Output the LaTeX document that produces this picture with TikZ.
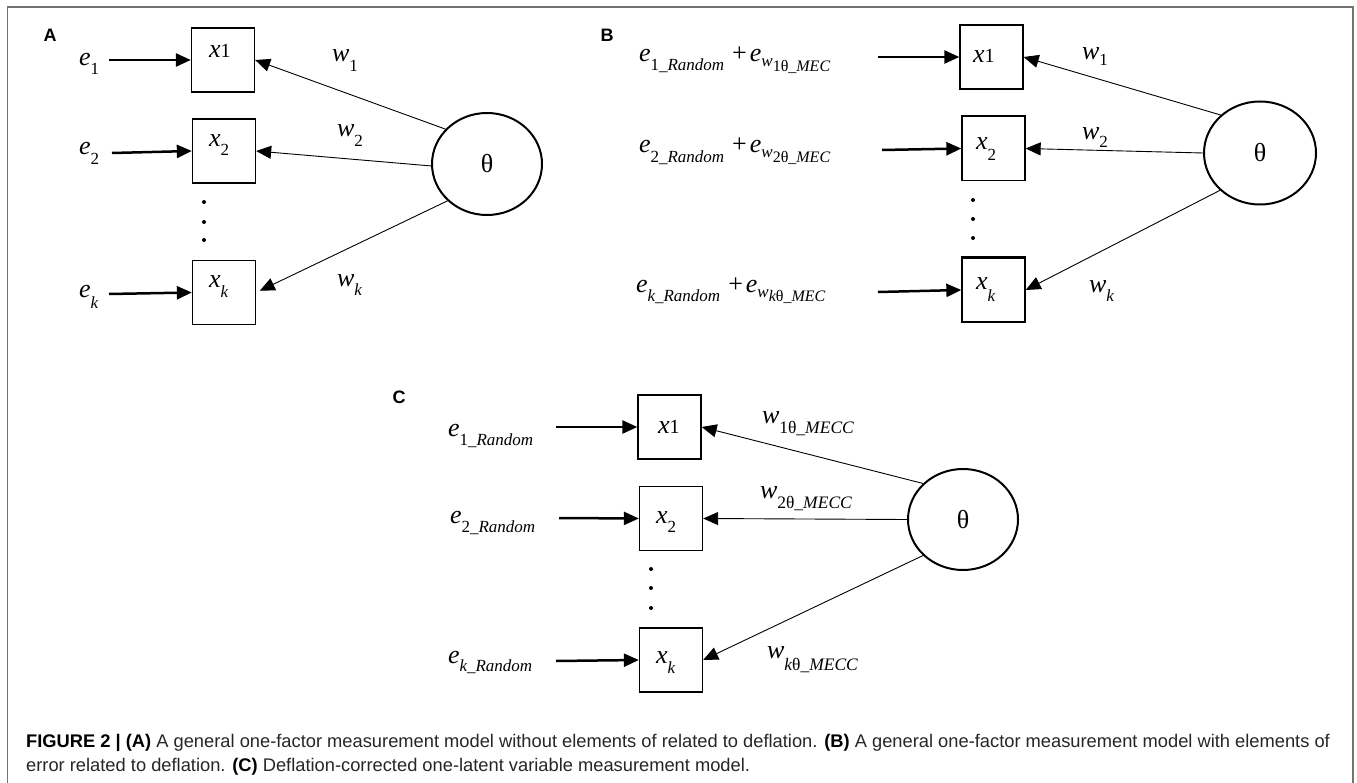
\documentclass[tikz,border=0pt]{standalone}
\usepackage{fontspec}
\setmainfont{Liberation Serif}
\newfontfamily\capfont{Liberation Sans}
\usetikzlibrary{arrows.meta,shapes.geometric}
\newcommand\bigf{\fontsize{26}{30}\selectfont\itshape}
\newcommand\subf{\fontsize{17}{20}\selectfont\itshape}
\newcommand\ssubf{\fontsize{16}{19}\selectfont\itshape}
\newcommand\csubf{\fontsize{17.5}{20}\selectfont\itshape}
\newcommand\upth{{\upshape θ}}
\newcommand\dg[1]{{\upshape #1}}
\begin{document}
\begin{tikzpicture}[x=1pt,y=-1pt,
  obs/.style={draw, line width=1.3pt, minimum width=63pt, minimum height=64pt, inner sep=0pt},
  lat/.style={draw, ellipse, line width=2pt, minimum width=110pt, minimum height=102pt, inner sep=0pt, font=\fontsize{26}{30}\selectfont},
  errarr/.style={-{Triangle[length=15pt,width=13pt]}, line width=2.5pt},
  loadarr/.style={-{Triangle[length=15pt,width=13pt]}, line width=0.9pt},
  lbl/.style={anchor=base west, inner sep=0pt, outer sep=0pt},
  panel/.style={font=\capfont\bfseries\fontsize{18}{20}\selectfont, inner sep=0pt},
  dotc/.style={circle, fill=black, inner sep=0pt, minimum size=4pt},
  captxt/.style={anchor=base west, inner sep=0pt, font=\capfont\fontsize{18.3}{22}\selectfont, text=black!85}
]
\useasboundingbox (0,0) rectangle (1357,783);
\draw[line width=1.6pt, black!55] (7.5,790) -- (7.5,7) -- (1353,7) -- (1353,790);

% ---------------- Panel A
\node[panel] (pA) at (50,35) {A};
\node[obs] (a1) at (223,60) {};
\node[obs] (a2) at (224,151) {};
\node[obs] (ak) at (224,292.5) {};
\node[lat] (tA) at (487,164) {θ};
\node[lbl] (xa1) at (209,58) {{\bigf x}{\fontsize{20}{24}\selectfont 1}};
\node[lbl] (xa2) at (209,147) {{\bigf x}\raisebox{-9pt}{\subf\dg{2}}};
\node[lbl] (xak) at (209,288) {{\bigf x}\raisebox{-10pt}{\subf k}};
\coordinate (ae1) at (109,60);
\coordinate (ae2) at (112,153);
\coordinate (aek) at (109,294);
\node[lbl] (la1) at (79,66) {{\bigf e}\raisebox{-9pt}{\subf\dg{1}}};
\node[lbl] (la2) at (79,155) {{\bigf e}\raisebox{-10pt}{\subf\dg{2}}};
\node[lbl] (lak) at (79,298) {{\bigf e}\raisebox{-11pt}{\subf k}};
\draw[errarr] (ae1) -- (a1.west);
\draw[errarr] (ae2) -- (a2.west);
\draw[errarr] (aek) -- (ak.west);
\draw[loadarr] (tA.140) -- (a1.east);
\draw[loadarr] (tA.182) -- (a2.east);
\draw[loadarr, shorten >=4pt] (tA.223) -- (ak.east);
\node[lbl] (wa1) at (332,62) {{\bigf w}\raisebox{-10pt}{\subf\dg{1}}};
\node[lbl] (wa2) at (337,137) {{\bigf w}\raisebox{-10pt}{\subf\dg{2}}};
\node[lbl] (wak) at (337,287) {{\bigf w}\raisebox{-9pt}{\subf k}};
\node[dotc] (da1) at (204,202) {};
\node[dotc] (da2) at (204,222) {};
\node[dotc] (da3) at (204,240) {};

% ---------------- Panel B
\node[panel] (pB) at (607,35) {B};
\node[obs] (b1) at (991.5,57) {};
\node[obs] (b2) at (993.5,148.5) {};
\node[obs] (bk) at (993.5,290) {};
\draw[line width=2.6pt] (b2.north west) -- (b2.north east);
\draw[line width=2.6pt] (bk.north west) -- (bk.north east);
\node[lat, minimum width=112pt, minimum height=103pt] (tB) at (1260,153) {θ};
\node[lbl] (xb1) at (973,63) {{\bigf x}{\fontsize{20}{24}\selectfont 1}};
\node[lbl] (xb2) at (976,150) {{\bigf x}\raisebox{-11pt}{\subf\dg{2}}};
\node[lbl] (xbk) at (976,290) {{\bigf x}\raisebox{-12pt}{\subf k}};
\coordinate (be1) at (878,57);
\coordinate (be2) at (882,150);
\coordinate (bek) at (878,292);
\node[lbl] (lb1) at (639,62) {{\bigf e}\raisebox{-9pt}{\subf\dg{1}\_Random}\hspace{8pt}{\fontsize{26}{30}\selectfont +}\hspace{3pt}{\bigf e}\raisebox{-5pt}{\subf w}\raisebox{-10pt}{\ssubf\dg{1}\upth\_MEC}};
\node[lbl] (lb2) at (639,153) {{\bigf e}\raisebox{-10pt}{\subf\dg{2}\_Random}\hspace{8pt}{\fontsize{26}{30}\selectfont +}\hspace{3pt}{\bigf e}\raisebox{-5pt}{\subf w}\raisebox{-10pt}{\ssubf\dg{2}\upth\_MEC}};
\node[lbl] (lbk) at (636,293) {{\bigf e}\raisebox{-9pt}{\subf k\_Random}\hspace{8pt}{\fontsize{26}{30}\selectfont +}\hspace{3pt}{\bigf e}\raisebox{-5pt}{\subf w}\raisebox{-9pt}{\ssubf k\upth\_MEC}};
\draw[errarr] (be1) -- (b1.west);
\draw[errarr] (be2) -- (b2.west);
\draw[errarr] (bek) -- (bk.west);
\draw[loadarr] (tB.136.5) -- (b1.east);
\draw[loadarr] (tB.180) -- (b2.east);
\draw[loadarr] (tB.223.6) -- (bk.east);
\node[lbl] (wb1) at (1082,60) {{\bigf w}\raisebox{-6pt}{\subf\dg{1}}};
\node[lbl] (wb2) at (1082,140) {{\bigf w}\raisebox{-8pt}{\subf\dg{2}}};
\node[lbl] (wbk) at (1089,293) {{\bigf w}\raisebox{-9pt}{\subf k}};
\node[dotc] (db1) at (973,200) {};
\node[dotc] (db2) at (973,219) {};
\node[dotc] (db3) at (973,238) {};

% ---------------- Panel C
\node[panel] (pC) at (399,397) {C};
\node[obs] (c1) at (669.5,427) {};
\node[obs] (c2) at (671,518.5) {};
\node[obs] (ck) at (671,660) {};
\node[lat, minimum height=101pt] (tC) at (963,519.5) {θ};
\node[lbl] (xc1) at (658,433) {{\bigf x}{\fontsize{20}{24}\selectfont 1}};
\node[lbl] (xc2) at (656,523) {{\bigf x}\raisebox{-9pt}{\subf\dg{2}}};
\node[lbl] (xck) at (656,663) {{\bigf x}\raisebox{-10pt}{\subf k}};
\coordinate (ce1) at (556,427);
\coordinate (ce2) at (559,518);
\coordinate (cek) at (556,661);
\node[lbl] (lc1) at (448,436) {{\bigf e}\raisebox{-9pt}{\subf\dg{1}\_Random}};
\node[lbl] (lc2) at (450,523) {{\bigf e}\raisebox{-9pt}{\subf\dg{2}\_Random}};
\node[lbl] (lck) at (448,663) {{\bigf e}\raisebox{-8pt}{\subf k\_Random}};
\draw[errarr] (ce1) -- (c1.west);
\draw[errarr] (ce2) -- (c2.west);
\draw[errarr] (cek) -- (ck.west);
\draw[loadarr] (tC.138.3) -- (c1.east);
\draw[loadarr] (tC.180) -- (c2.east);
\draw[loadarr] (tC.222.4) -- (ck.east);
\node[lbl] (wc1) at (762,423) {{\bigf w}\raisebox{-10pt}{\csubf\dg{1}\upth\_MECC}};
\node[lbl] (wc2) at (760,498) {{\bigf w}\raisebox{-10pt}{\csubf\dg{2}\upth\_MECC}};
\node[lbl] (wck) at (767,658) {{\bigf w}\raisebox{-12pt}{\csubf k\upth\_MECC}};
\node[dotc] (dc1) at (651,569) {};
\node[dotc] (dc2) at (651,588) {};
\node[dotc] (dc3) at (651,608) {};

% ---------------- Caption
\node[captxt] (cap1) at (26,747) {\textbf{\textcolor{black}{FIGURE 2 | (A)}} A general one-factor measurement model without elements of related to deflation. \textbf{\textcolor{black}{(B)}} A general one-factor measurement model with elements of};
\node[captxt] (cap2) at (26,771) {error related to deflation. \textbf{\textcolor{black}{(C)}} Deflation-corrected one-latent variable measurement model.};
\end{tikzpicture}
\end{document}
